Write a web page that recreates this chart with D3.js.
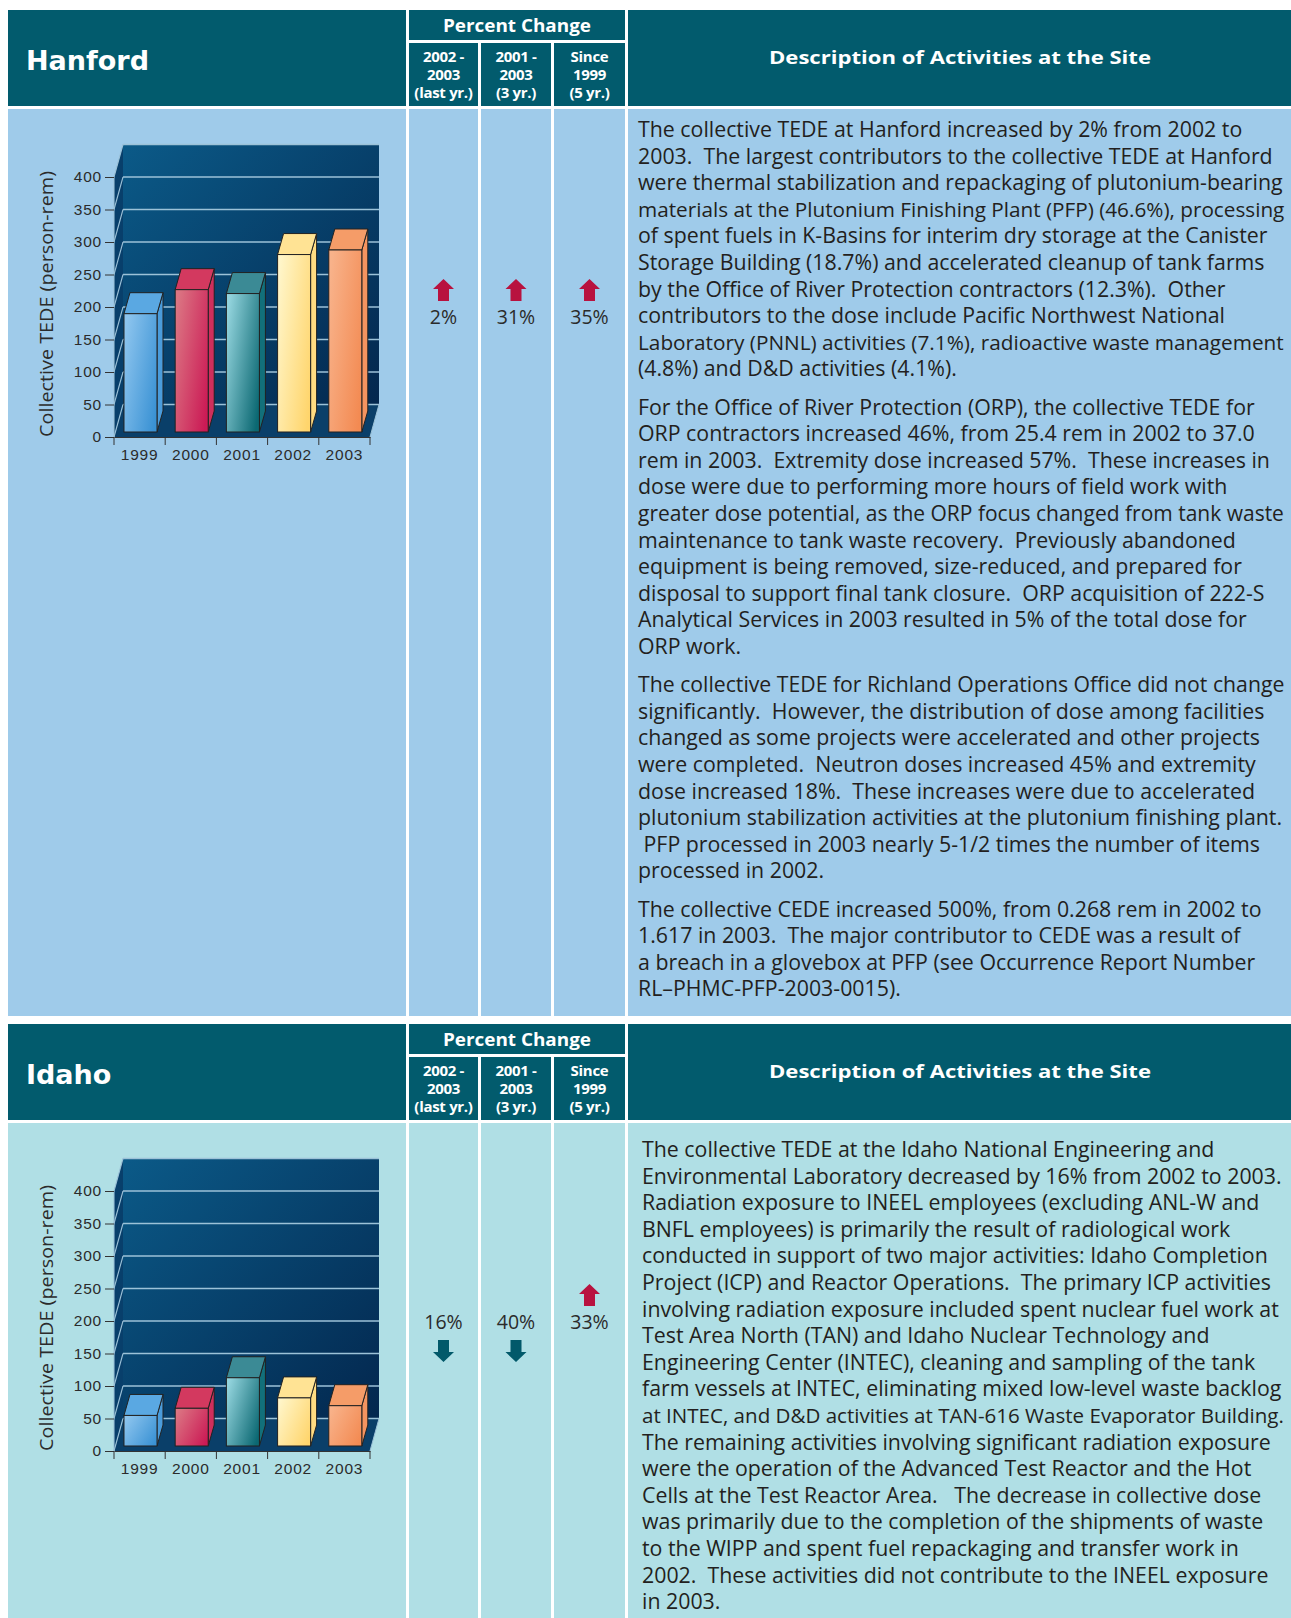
<!DOCTYPE html>
<html>
<head>
<meta charset="utf-8">
<script src="https://cdn.jsdelivr.net/npm/d3@7"></script>
<style>
  body { margin: 0; background: #fff; }
  svg { display: block; }
  .desc { font-family: "Open Sans", "Noto Sans", sans-serif; fill: #231f20; white-space: pre; }
  .head { font-family: "Open Sans", sans-serif; font-weight: 700; fill: #fff; }
  .axis text { font-family: "Liberation Sans", Arial, sans-serif; font-size: 15.5px; fill: #2b2b2b; letter-spacing: 0.8px; }
  .axis path, .axis line { stroke: #333; }
</style>
</head>
<body>
<svg id="page" width="1291" height="1618"></svg>
<script>
// ---- data ----
var years = ["1999", "2000", "2001", "2002", "2003"];
var hanfordTede = [182, 219, 213, 273, 280];
var idahoTede = [47, 58, 105, 74, 62];
var yTicks = [0, 50, 100, 150, 200, 250, 300, 350, 400];

var changeHeads = [["2002 -", "2003", "(last yr.)"], ["2001 -", "2003", "(3 yr.)"], ["Since", "1999", "(5 yr.)"]];
var hanfordChange = ["2%", "31%", "35%"];
var hanfordDir = ["up", "up", "up"];
var idahoChange = ["16%", "40%", "33%"];
var idahoDir = ["down", "down", "up"];

var hanfordText = [
  ["The collective TEDE at Hanford increased by 2% from 2002 to",
   "2003.  The largest contributors to the collective TEDE at Hanford",
   "were thermal stabilization and repackaging of plutonium-bearing",
   "materials at the Plutonium Finishing Plant (PFP) (46.6%), processing",
   "of spent fuels in K-Basins for interim dry storage at the Canister",
   "Storage Building (18.7%) and accelerated cleanup of tank farms",
   "by the Office of River Protection contractors (12.3%).  Other",
   "contributors to the dose include Pacific Northwest National",
   "Laboratory (PNNL) activities (7.1%), radioactive waste management",
   "(4.8%) and D&D activities (4.1%)."],
  ["For the Office of River Protection (ORP), the collective TEDE for",
   "ORP contractors increased 46%, from 25.4 rem in 2002 to 37.0",
   "rem in 2003.  Extremity dose increased 57%.  These increases in",
   "dose were due to performing more hours of field work with",
   "greater dose potential, as the ORP focus changed from tank waste",
   "maintenance to tank waste recovery.  Previously abandoned",
   "equipment is being removed, size-reduced, and prepared for",
   "disposal to support final tank closure.  ORP acquisition of 222-S",
   "Analytical Services in 2003 resulted in 5% of the total dose for",
   "ORP work."],
  ["The collective TEDE for Richland Operations Office did not change",
   "significantly.  However, the distribution of dose among facilities",
   "changed as some projects were accelerated and other projects",
   "were completed.  Neutron doses increased 45% and extremity",
   "dose increased 18%.  These increases were due to accelerated",
   "plutonium stabilization activities at the plutonium finishing plant.",
   " PFP processed in 2003 nearly 5-1/2 times the number of items",
   "processed in 2002."],
  ["The collective CEDE increased 500%, from 0.268 rem in 2002 to",
   "1.617 in 2003.  The major contributor to CEDE was a result of",
   "a breach in a glovebox at PFP (see Occurrence Report Number",
   "RL\u2013PHMC-PFP-2003-0015)."]
];

var idahoText = [
  ["The collective TEDE at the Idaho National Engineering and",
   "Environmental Laboratory decreased by 16% from 2002 to 2003.",
   "Radiation exposure to INEEL employees (excluding ANL-W and",
   "BNFL employees) is primarily the result of radiological work",
   "conducted in support of two major activities: Idaho Completion",
   "Project (ICP) and Reactor Operations.  The primary ICP activities",
   "involving radiation exposure included spent nuclear fuel work at",
   "Test Area North (TAN) and Idaho Nuclear Technology and",
   "Engineering Center (INTEC), cleaning and sampling of the tank",
   "farm vessels at INTEC, eliminating mixed low-level waste backlog",
   "at INTEC, and D&D activities at TAN-616 Waste Evaporator Building.",
   "The remaining activities involving significant radiation exposure",
   "were the operation of the Advanced Test Reactor and the Hot",
   "Cells at the Test Reactor Area.   The decrease in collective dose",
   "was primarily due to the completion of the shipments of waste",
   "to the WIPP and spent fuel repackaging and transfer work in",
   "2002.  These activities did not contribute to the INEEL exposure",
   "in 2003."]
];

// bar colours per year: front light, front dark, top, side
var barFront1 = ["#8cc4ee", "#db7482", "#92d3dc", "#fff5c8", "#f8b28a"];
var barFront2 = ["#3a92d4", "#cb1a55", "#0b6872", "#ffd56c", "#f38a52"];
var barTop = ["#5aa8e2", "#d3395f", "#3b8a95", "#ffe394", "#f59c68"];
var barSide = ["#4a9cdb", "#cf2f5c", "#12707a", "#ffdc82", "#f49460"];

// ---- page ----
var svg = d3.select("#page");
var defs = svg.append("defs");

var wall = defs.append("linearGradient").attr("id", "wallGrad")
    .attr("x1", 0).attr("y1", 0).attr("x2", 1).attr("y2", 1);
wall.append("stop").attr("offset", "0%").attr("stop-color", "#0b5a88");
wall.append("stop").attr("offset", "100%").attr("stop-color", "#03274e");

years.forEach(function(yr, i) {
  var gr = defs.append("linearGradient").attr("id", "bar" + i)
      .attr("x1", 0).attr("y1", 0.2).attr("x2", 1).attr("y2", 0.8);
  gr.append("stop").attr("offset", "0%").attr("stop-color", barFront1[i]);
  gr.append("stop").attr("offset", "100%").attr("stop-color", barFront2[i]);
});

// fit the description font to the width of a line in the reference
var probe = svg.append("text").attr("class", "desc").style("font-size", "20px")
    .text("were thermal stabilization and repackaging of plutonium-bearing");
var descSize = 20 * 645 / probe.node().getComputedTextLength();
probe.remove();

function drawSection(top, bodyH, name, values, bodyFill, changes, dirs, changeY, paras, textX, textY) {
  var g = svg.append("g").attr("transform", "translate(0," + top + ")");
  var hc = "#025b6d";

  // header blocks
  g.append("rect").attr("x", 8).attr("y", 0).attr("width", 398).attr("height", 96).attr("fill", hc);
  g.append("rect").attr("x", 409).attr("y", 0).attr("width", 216).attr("height", 30).attr("fill", hc);
  var cols = [[409, 69], [481, 70], [554, 71]];
  cols.forEach(function(c) {
    g.append("rect").attr("x", c[0]).attr("y", 33).attr("width", c[1]).attr("height", 63).attr("fill", hc);
  });
  g.append("rect").attr("x", 628).attr("y", 0).attr("width", 663).attr("height", 96).attr("fill", hc);

  g.append("text").attr("x", 26).attr("y", 60)
      .style("font-family", "'DejaVu Sans', Verdana, sans-serif").style("font-weight", "bold")
      .style("font-size", "27px").attr("fill", "#fff").text(name);
  g.append("text").attr("class", "head").attr("x", 517).attr("y", 22).attr("text-anchor", "middle")
      .style("font-size", "18px").attr("textLength", 148).attr("lengthAdjust", "spacingAndGlyphs")
      .text("Percent Change");
  cols.forEach(function(c, i) {
    changeHeads[i].forEach(function(s, k) {
      g.append("text").attr("class", "head").attr("x", c[0] + c[1] / 2).attr("y", 52 + k * 18)
          .attr("text-anchor", "middle").style("font-size", "15px").style("letter-spacing", "-0.3px").text(s);
    });
  });
  g.append("text").attr("class", "head").attr("x", 960).attr("y", 54).attr("text-anchor", "middle")
      .style("font-size", "18.5px").attr("textLength", 382).attr("lengthAdjust", "spacingAndGlyphs")
      .text("Description of Activities at the Site");

  // body blocks
  var by = 99;
  g.append("rect").attr("x", 8).attr("y", by).attr("width", 398).attr("height", bodyH).attr("fill", bodyFill);
  cols.forEach(function(c) {
    g.append("rect").attr("x", c[0]).attr("y", by).attr("width", c[1]).attr("height", bodyH).attr("fill", bodyFill);
  });
  g.append("rect").attr("x", 628).attr("y", by).attr("width", 663).attr("height", bodyH).attr("fill", bodyFill);

  // percent change values with arrows
  cols.forEach(function(c, i) {
    var cx = c[0] + c[1] / 2;
    g.append("text").attr("class", "desc").attr("x", cx).attr("y", changeY).attr("text-anchor", "middle")
        .style("font-size", "19.5px").style("fill", "#2b2b2b").text(changes[i]);
    var pts;
    if (dirs[i] === "up") {
      pts = [[0, 0], [10.5, 10], [5.5, 10], [5.5, 22], [-5.5, 22], [-5.5, 10], [-10.5, 10]];
      g.append("polygon").attr("fill", "#b8123f")
          .attr("points", pts.map(function(p) { return (cx + p[0]) + "," + (changeY - 45 + p[1]); }).join(" "));
    } else {
      pts = [[0, 22], [10.5, 12], [5.5, 12], [5.5, 0], [-5.5, 0], [-5.5, 12], [-10.5, 12]];
      g.append("polygon").attr("fill", "#02596a")
          .attr("points", pts.map(function(p) { return (cx + p[0]) + "," + (changeY + 11 + p[1]); }).join(" "));
    }
  });

  // description paragraphs; a line that would overrun the column gets a slightly smaller size
  var maxW = 1284 - textX;
  var ly = textY;
  paras.forEach(function(lines) {
    lines.forEach(function(s) {
      var t = g.append("text").attr("class", "desc").attr("x", textX).attr("y", ly)
          .style("font-size", descSize + "px").text(s);
      var w = t.node().getComputedTextLength();
      if (w > maxW) t.style("font-size", (descSize * maxW / w) + "px");
      ly += 26.6;
    });
    ly += 11.6;
  });

  drawChart(g, values);
}

function drawChart(g, values) {
  var y0 = 427, yTop = 167;
  var x = d3.scaleBand().domain(years).range([114, 370]);
  var y = d3.scaleLinear().domain([0, 400]).range([y0, yTop]);
  var dx = 9, dy = y(0) - y(50);
  var x0 = x.range()[0], x1 = x.range()[1];
  var c = g.append("g");

  // back wall, side wall and floor
  c.append("rect").attr("x", x0 + dx).attr("y", y(400) - dy)
      .attr("width", x1 - x0).attr("height", y(0) - y(400)).attr("fill", "url(#wallGrad)");
  c.append("polygon").attr("fill", "#083f6b")
      .attr("points", [[x0, y(0)], [x0, y(400)], [x0 + dx, y(400) - dy], [x0 + dx, y(0) - dy]].join(" "));
  c.append("polygon").attr("fill", "#0a3f69")
      .attr("points", [[x0, y(0)], [x1, y(0)], [x1 + dx, y(0) - dy], [x0 + dx, y(0) - dy]].join(" "));

  // gridlines on back wall and slants on side wall
  c.selectAll(".grid").data(yTicks).enter().append("line")
      .attr("x1", x0 + dx).attr("x2", x1 + dx)
      .attr("y1", function(v) { return y(v) - dy; }).attr("y2", function(v) { return y(v) - dy; })
      .attr("stroke", "#9cc2d8").attr("stroke-width", 1.3);
  c.selectAll(".slant").data(yTicks).enter().append("line")
      .attr("x1", x0).attr("x2", x0 + dx)
      .attr("y1", function(v) { return y(v); }).attr("y2", function(v) { return y(v) - dy; })
      .attr("stroke", "#9cc2d8").attr("stroke-width", 1.1);
  c.append("line").attr("x1", x0).attr("x2", x0).attr("y1", y(0)).attr("y2", y(400))
      .attr("stroke", "#9cc2d8").attr("stroke-width", 1.1);
  c.append("line").attr("x1", x1).attr("x2", x1 + dx).attr("y1", y(0)).attr("y2", y(0) - dy)
      .attr("stroke", "#9cc2d8").attr("stroke-width", 1);

  // bars
  var bw = x.bandwidth() * 0.645, inset = x.bandwidth() * 0.195;
  var fz = 0.154 * dy, bdx = 6, bdy = 0.646 * dy;
  var bars = c.selectAll(".bar").data(values).enter().append("g");
  bars.each(function(v, i) {
    var b = d3.select(this);
    var xl = x(years[i]) + inset, xr = xl + bw;
    var yb = y(0) - fz, yt = yb - (y(0) - y(v));
    b.append("polygon").attr("fill", barSide[i]).attr("stroke", "#222").attr("stroke-width", 1)
        .attr("points", [[xr, yt], [xr + bdx, yt - bdy], [xr + bdx, yb - bdy], [xr, yb]].join(" "));
    b.append("polygon").attr("fill", barTop[i]).attr("stroke", "#222").attr("stroke-width", 1)
        .attr("points", [[xl, yt], [xl + bdx, yt - bdy], [xr + bdx, yt - bdy], [xr, yt]].join(" "));
    b.append("rect").attr("x", xl).attr("y", yt).attr("width", bw).attr("height", yb - yt)
        .attr("fill", "url(#bar" + i + ")").attr("stroke", "#222").attr("stroke-width", 1);
  });

  // axes
  var ya = c.append("g").attr("class", "axis").attr("transform", "translate(" + x0 + ",0)")
      .call(d3.axisLeft(y).tickValues(yTicks).tickSize(9).tickPadding(3).tickSizeOuter(0));
  ya.select(".domain").remove();
  var xa = c.append("g").attr("class", "axis").attr("transform", "translate(0," + y0 + ")")
      .call(d3.axisBottom(x).tickSize(0).tickPadding(12));
  xa.select(".domain").attr("stroke", "#333");
  xa.selectAll(".edge").data(d3.range(years.length + 1)).enter().append("line")
      .attr("x1", function(k) { return x0 + k * x.step(); }).attr("x2", function(k) { return x0 + k * x.step(); })
      .attr("y1", 0).attr("y2", 8).attr("stroke", "#333");

  c.append("text").attr("transform", "translate(53,294) rotate(-90)").attr("text-anchor", "middle")
      .attr("class", "desc").style("font-size", "18.5px").style("fill", "#2b2b2b")
      .attr("textLength", 266).attr("lengthAdjust", "spacingAndGlyphs")
      .text("Collective TEDE (person-rem)");
}

drawSection(10, 907, "Hanford", hanfordTede, "#9fcbea", hanfordChange, hanfordDir, 314, hanfordText, 638, 127);
drawSection(1024, 600, "Idaho", idahoTede, "#b0dfe5", idahoChange, idahoDir, 305, idahoText, 642, 133);
</script>
</body>
</html>
